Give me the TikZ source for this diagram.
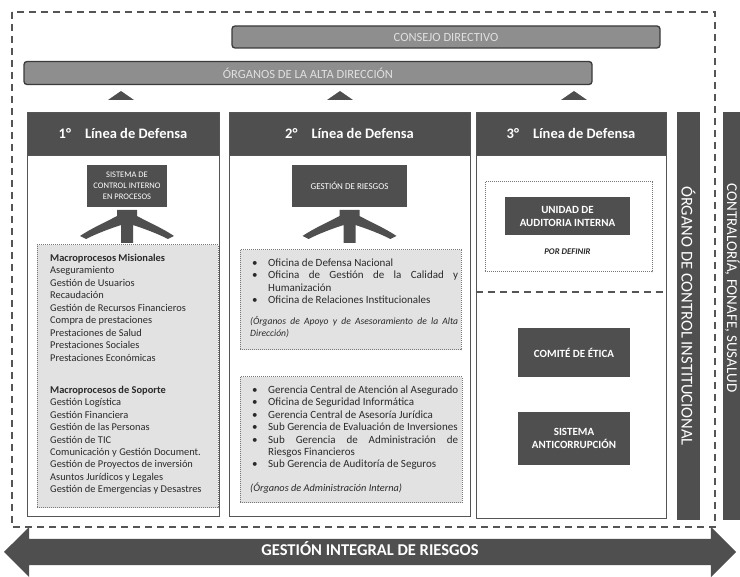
\documentclass[tikz,border=0pt]{standalone}
\usepackage{fontspec}
\setmainfont{Carlito}
\usetikzlibrary{shapes.arrows}
\definecolor{hdr}{HTML}{4F4F4F}
\definecolor{bar}{HTML}{8E8E8E}
\definecolor{barline}{HTML}{3A3A3A}
\definecolor{listbg}{HTML}{E2E2E2}
\definecolor{pline}{HTML}{555555}
\definecolor{txt}{HTML}{2A2A2A}
\newcommand\bul[1]{\par\hangindent=18pt\hangafter=1\noindent\hbox to 18pt{\hskip 2pt\textbullet\hfil}#1\par}
\begin{document}
\begin{tikzpicture}[x=1pt,y=-1pt,
  topbar/.style={draw=barline, line width=1.3pt, fill=bar, rounded corners=3pt, text=white!88!black, font=\fontsize{12.5}{14}\selectfont, inner sep=0pt},
  panel/.style={draw=pline, line width=0.9pt, fill=white, inner sep=0pt},
  header/.style={fill=hdr, draw=pline, line width=0.9pt, text=white, font=\fontsize{14.5}{17}\selectfont\bfseries, inner sep=0pt},
  darkbox/.style={fill=hdr, text=white, align=center, inner sep=0pt},
  listbox/.style={draw=pline!80, densely dotted, line width=1pt, fill=listbg, inner sep=0pt},
  listtext/.style={text=txt, inner sep=0pt},
  vbar/.style={fill=hdr, text=white, inner sep=0pt},
  fork/.style={fill=hdr},
  tri/.style={fill=hdr}
]
\useasboundingbox (0,0) rectangle (740,577);

% outer dashed frame
\draw[pline, line width=1.1pt, dash pattern=on 7pt off 5pt] (12,12) rectangle (715,527);

% top bars
\node[topbar, minimum width=428pt, minimum height=22pt] (consejo) at (446,37) {CONSEJO DIRECTIVO};
\node[topbar, minimum width=568pt, minimum height=23pt] (organos) at (308,73) {ÓRGANOS DE LA ALTA DIRECCIÓN};

% small triangles
\fill[tri] (108,100) -- (121,91) -- (134,100) -- cycle;
\fill[tri] (327,100) -- (340,91) -- (353,100) -- cycle;
\fill[tri] (561,100) -- (574,91) -- (587,100) -- cycle;

% panels
\node[panel, minimum width=192pt, minimum height=404pt] (p1) at (123,314) {};
\node[panel, minimum width=241pt, minimum height=404pt] (p2) at (349.5,314) {};
\node[panel, minimum width=190pt, minimum height=406pt] (p3) at (571,315) {};

\node[header, minimum width=192pt, minimum height=43pt] (h1) at (123,133.5) {1°\hspace{14pt}Línea de Defensa};
\node[header, minimum width=241pt, minimum height=43pt] (h2) at (349.5,133.5) {2°\hspace{14pt}Línea de Defensa};
\node[header, minimum width=190pt, minimum height=43pt] (h3) at (571,133.5) {3°\hspace{14pt}Línea de Defensa};

% column 1
\node[darkbox, minimum width=80pt, minimum height=42pt, font=\fontsize{8.5}{11}\selectfont] (s1) at (127,186) {SISTEMA DE\\CONTROL INTERNO\\EN PROCESOS};
\fill[fork] (117,210) -- (137,210) -- (137,216) .. controls (150,223) and (162,228) .. (174,236) -- (168,239) .. controls (156,233) and (145,229) .. (133,225) -- (133,243) -- (121,243) -- (121,225) .. controls (109,229) and (98,233) .. (86,239) -- (80,236) .. controls (92,228) and (104,223) .. (117,216) -- cycle;

\node[listbox, minimum width=181pt, minimum height=263pt] (l1) at (127.5,376.5) {};
\node[listtext, anchor=north west, align=left, font=\fontsize{10.4}{12.45}\selectfont] (m1) at (50,254) {\textbf{Macroprocesos Misionales}\\Aseguramiento\\Gestión de Usuarios\\Recaudación\\Gestión de Recursos Financieros\\Compra de prestaciones\\Prestaciones de Salud\\Prestaciones Sociales\\Prestaciones Económicas};
\node[listtext, anchor=north west, align=left, font=\fontsize{10.4}{12.4}\selectfont] (m2) at (50,386) {\textbf{Macroprocesos de Soporte}\\Gestión Logística\\Gestión Financiera\\Gestión de las Personas\\Gestión de TIC\\Comunicación y Gestión Document.\\Gestión de Proyectos de inversión\\Asuntos Jurídicos y Legales\\Gestión de Emergencias y Desastres};

% column 2
\node[darkbox, minimum width=115pt, minimum height=42pt, font=\fontsize{9}{11}\selectfont] (s2) at (349.5,186) {GESTIÓN DE RIESGOS};
\fill[fork] (339.5,210) -- (359.5,210) -- (359.5,216) .. controls (372.5,223) and (384.5,228) .. (396.5,236) -- (390.5,239) .. controls (378.5,233) and (367.5,229) .. (355.5,225) -- (355.5,243) -- (343.5,243) -- (343.5,225) .. controls (331.5,229) and (320.5,233) .. (308.5,239) -- (302.5,236) .. controls (314.5,228) and (326.5,223) .. (339.5,216) -- cycle;

\node[listbox, minimum width=221pt, minimum height=100pt] (l2a) at (350.5,300) {};
\node[listtext, anchor=north west, text width=208pt, align=justify, font=\fontsize{11}{12.3}\selectfont] (t2a) at (250,254) {%
\bul{Oficina de Defensa Nacional}%
\bul{Oficina de Gestión de la Calidad y\linebreak Humanización}%
\bul{Oficina de Relaciones Institucionales}%
\vspace{9pt}\noindent{\fontsize{9.6}{12.2}\selectfont\itshape (Órganos de Apoyo y de Asesoramiento de la Alta\linebreak Dirección)\par}};

\node[listbox, minimum width=222pt, minimum height=126pt] (l2b) at (351,440) {};
\node[listtext, anchor=north west, text width=208pt, align=justify, font=\fontsize{11}{12.4}\selectfont] (t2b) at (250,381) {%
\bul{Gerencia Central de Atención al Asegurado}%
\bul{Oficina de Seguridad Informática}%
\bul{Gerencia Central de Asesoría Jurídica}%
\bul{Sub Gerencia de Evaluación de Inversiones}%
\bul{Sub Gerencia de Administración de\linebreak Riesgos Financieros}%
\bul{Sub Gerencia de Auditoría de Seguros}%
\vspace{11pt}\noindent{\fontsize{10.3}{12.2}\selectfont\itshape (Órganos de Administración Interna)\par}};

% column 3
\node[listbox, fill=white, minimum width=167pt, minimum height=90pt] (aud) at (568.5,227) {};
\node[darkbox, minimum width=125pt, minimum height=38pt, font=\fontsize{11}{13}\selectfont\bfseries] (uai) at (567.5,216) {UNIDAD DE\\AUDITORIA INTERNA};
\node[text=txt, inner sep=0pt, font=\fontsize{8.7}{10}\selectfont\bfseries\itshape] (pord) at (567.5,252) {POR DEFINIR};
\draw[pline, line width=1.1pt, dash pattern=on 7pt off 5pt] (p3.west |- 0,292) -- (p3.east |- 0,292);
\node[darkbox, minimum width=112pt, minimum height=49pt, font=\fontsize{11}{13}\selectfont\bfseries] (etica) at (574,352.5) {COMITÉ DE ÉTICA};
\node[darkbox, minimum width=112pt, minimum height=53pt, font=\fontsize{11}{13}\selectfont\bfseries] (anti) at (574,438.5) {SISTEMA\\ANTICORRUPCIÓN};

% vertical bars
\node[vbar, minimum width=23pt, minimum height=408pt] (oci) at (688.5,316) {};
\node[vbar, rotate=-90, font=\fontsize{16.5}{18}\selectfont] (ocit) at (oci.center) {ÓRGANO DE CONTROL INSTITUCIONAL};
\node[vbar, minimum width=20pt, minimum height=408pt] (cfs) at (733,316) {};
\node[vbar, rotate=-90, font=\fontsize{15}{17}\selectfont] (cfst) at (732.5,288) {CONTRALORÍA, FONAFE, SUSALUD};

% bottom double arrow
\node[double arrow, fill=hdr, text=white, font=\fontsize{16.5}{19}\selectfont\bfseries,
  minimum height=732pt, text height=11pt, text depth=3pt, inner ysep=6pt, inner xsep=0pt,
  double arrow head extend=12pt, double arrow tip angle=90] (gir) at (370,552) {GESTIÓN INTEGRAL DE RIESGOS};
\end{tikzpicture}
\end{document}
